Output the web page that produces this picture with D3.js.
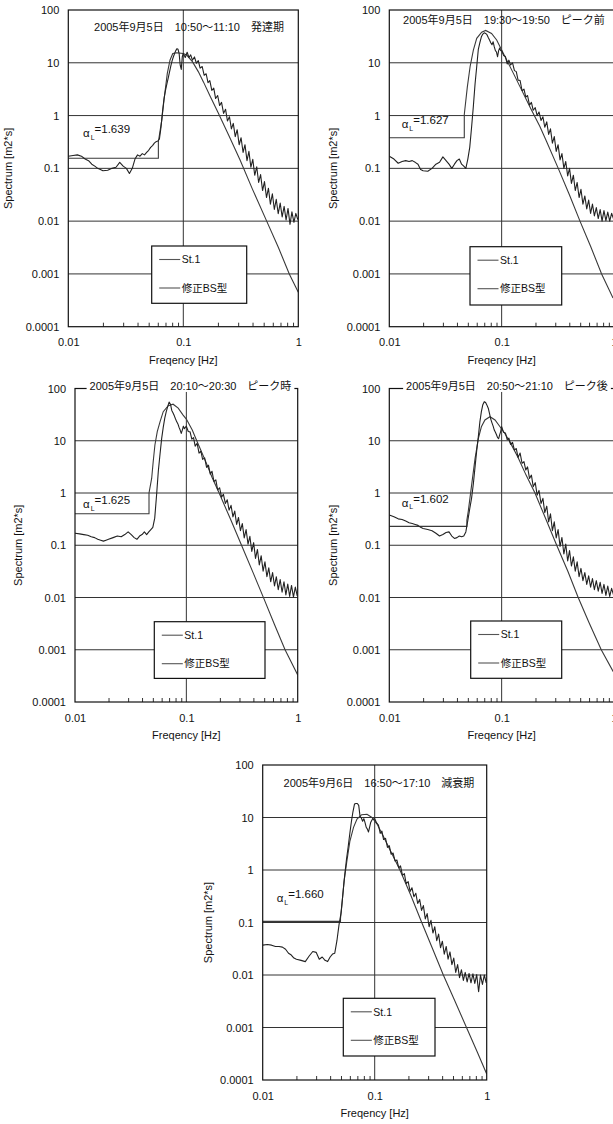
<!DOCTYPE html>
<html>
<head>
<meta charset="utf-8">
<script src="https://cdn.jsdelivr.net/npm/d3@7"></script>
<style>
    body { margin: 0; background: #fff; }
    svg { display: block; }
    text { font-family: "Liberation Sans", Arial, "Noto Sans CJK JP", sans-serif; fill: #111; }
</style>
</head>
<body>
<svg id="chart" width="613" height="1124"></svg>
<script>
// ---- data ----
const titles = [
    '2005年9月5日　10:50～11:10　発達期',
    '2005年9月5日　19:30～19:50　ピーク前',
    '2005年9月5日　20:10～20:30　ピーク時',
    '2005年9月5日　20:50～21:10　ピーク後',
    '2005年9月6日　16:50～17:10　減衰期'
];
const alphaL = ['1.639', '1.627', '1.625', '1.602', '1.660'];
const seriesNames = ['St.1', '修正BS型'];

const yTicks = [0.0001, 0.001, 0.01, 0.1, 1, 10, 100];
const yTickLabels = ['0.0001', '0.001', '0.01', '0.1', '1', '10', '100'];
const xTicks = [0.01, 0.1, 1];
const xTickLabels = ['0.01', '0.1', '1'];

// frequency grid of the measured spectra [Hz]
const freq = [
    0.010, 0.011, 0.012, 0.013, 0.014, 0.015, 0.016, 0.017, 0.018, 0.019, 0.020, 0.022, 0.024, 0.026, 0.028, 0.030, 0.032, 0.034, 0.036, 0.038, 0.040, 0.042, 0.044, 0.046, 0.048,
    0.050, 0.052, 0.054, 0.056, 0.058, 0.060, 0.062, 0.064, 0.066, 0.068, 0.070, 0.072, 0.074, 0.076, 0.078, 0.080, 0.082, 0.084, 0.086, 0.088, 0.090, 0.092, 0.094, 0.096, 0.098,
    0.100, 0.104, 0.108, 0.112, 0.116, 0.120, 0.125, 0.130, 0.135, 0.140, 0.146, 0.152, 0.158, 0.164, 0.170, 0.177, 0.184, 0.191, 0.199, 0.207,
    0.215, 0.224, 0.233, 0.242, 0.252, 0.262, 0.272, 0.283, 0.294, 0.306, 0.318, 0.331, 0.344, 0.358, 0.372, 0.387, 0.402, 0.418, 0.435, 0.452,
    0.470, 0.489, 0.508, 0.529, 0.550, 0.572, 0.595, 0.619, 0.643, 0.669, 0.696, 0.724, 0.753, 0.783, 0.814, 0.847, 0.880, 0.916, 0.952, 0.990
];

// St.1 measured spectra [m2*s]
const st1_a = [
    0.17, 0.175, 0.18, 0.17, 0.15, 0.14, 0.12, 0.11, 0.10, 0.095, 0.09, 0.092, 0.10, 0.105, 0.13, 0.11, 0.10, 0.08, 0.10, 0.15, 0.18, 0.17, 0.19, 0.18, 0.20,
    0.22, 0.25, 0.27, 0.30, 0.32, 0.33, 0.36, 0.6, 1.2, 2.1, 3.0, 4.0, 5.2, 6.8, 8.8, 11, 13, 15, 17, 18.5, 18, 15, 9, 7.5, 13,
    15, 12.6, 15.8, 12.6, 14.1, 11.2, 12.9, 9.8, 11, 7.9, 8.5, 5.8, 6.2, 4.2, 4.6, 3.0, 3.3, 2.1, 2.4, 1.55,
    1.78, 1.1, 1.32, 0.79, 0.95, 0.56, 0.71, 0.4, 0.54, 0.28, 0.38, 0.2, 0.28, 0.14, 0.21, 0.105, 0.148, 0.074, 0.107, 0.054,
    0.076, 0.038, 0.056, 0.028, 0.042, 0.021, 0.033, 0.0166, 0.026, 0.0138, 0.022, 0.012, 0.019, 0.0105, 0.0174, 0.0087, 0.015, 0.0095, 0.014, 0.0107
];
const st1_b = [
    0.17, 0.15, 0.125, 0.135, 0.14, 0.135, 0.14, 0.13, 0.12, 0.095, 0.09, 0.088, 0.10, 0.12, 0.13, 0.165, 0.14, 0.12, 0.10, 0.12, 0.14, 0.15, 0.12, 0.11, 0.10,
    0.15, 0.25, 0.6, 1.5, 4, 8.5, 18, 24, 31, 35, 37, 36, 34, 30, 27, 24, 22, 25, 20, 17, 16, 13, 17, 19, 17,
    17, 13.8, 13.2, 9.5, 11.2, 9.1, 10, 7.1, 6.8, 4.7, 4.6, 2.95, 3.16, 2.24, 2.4, 1.58, 1.78, 1.26, 1.41, 1.0,
    1.17, 0.81, 0.95, 0.6, 0.76, 0.44, 0.56, 0.3, 0.4, 0.21, 0.28, 0.145, 0.19, 0.1, 0.135, 0.072, 0.1, 0.052, 0.074, 0.038,
    0.054, 0.028, 0.04, 0.021, 0.03, 0.017, 0.025, 0.014, 0.021, 0.0126, 0.018, 0.0112, 0.0166, 0.01, 0.0158, 0.0102, 0.0148, 0.01, 0.0141, 0.011
];
const st1_c = [
    0.17, 0.165, 0.16, 0.155, 0.145, 0.14, 0.13, 0.125, 0.12, 0.125, 0.13, 0.14, 0.15, 0.145, 0.16, 0.18, 0.16, 0.14, 0.13, 0.15, 0.16, 0.18, 0.16, 0.18, 0.2,
    0.22, 0.33, 0.9, 2.6, 5.5, 11, 18, 27, 36, 45, 55, 50, 38, 34, 30, 26, 23, 21, 18, 16, 13.8, 16, 19, 17, 18,
    19, 15, 14.8, 10.7, 11.5, 7.9, 8.9, 5.8, 6.3, 4.4, 4.7, 3.1, 3.4, 2.3, 2.6, 1.66, 1.78, 1.15, 1.26, 0.83,
    0.95, 0.63, 0.74, 0.47, 0.58, 0.35, 0.45, 0.25, 0.34, 0.19, 0.26, 0.138, 0.2, 0.105, 0.148, 0.076, 0.112, 0.056, 0.083, 0.042,
    0.063, 0.032, 0.048, 0.025, 0.037, 0.02, 0.03, 0.0166, 0.025, 0.0141, 0.022, 0.0126, 0.02, 0.0112, 0.018, 0.0105, 0.017, 0.0102, 0.0158, 0.0107
];
const st1_d = [
    0.38, 0.35, 0.32, 0.31, 0.29, 0.27, 0.26, 0.25, 0.24, 0.22, 0.21, 0.20, 0.19, 0.17, 0.15, 0.16, 0.175, 0.18, 0.15, 0.135, 0.14, 0.15, 0.145, 0.15, 0.18,
    0.3, 0.5, 0.8, 1.5, 3.2, 6.5, 12, 23, 36, 49, 56, 54, 48, 42, 33, 26, 22, 19, 16, 14.5, 13, 11.5, 11, 13, 15,
    18.6, 14.5, 14.1, 10.5, 11.2, 8.5, 9.3, 6.6, 7.1, 4.8, 5.8, 3.7, 4.0, 2.75, 3.16, 1.9, 2.2, 1.32, 1.58, 0.91,
    1.12, 0.63, 0.79, 0.42, 0.56, 0.28, 0.4, 0.19, 0.28, 0.138, 0.2, 0.095, 0.141, 0.068, 0.105, 0.05, 0.079, 0.04, 0.06, 0.032,
    0.048, 0.025, 0.036, 0.021, 0.03, 0.0178, 0.026, 0.0158, 0.023, 0.0141, 0.021, 0.0132, 0.0195, 0.012, 0.0178, 0.011, 0.0166, 0.0105, 0.015, 0.0112
];
const st1_e = [
    0.037, 0.038, 0.037, 0.035, 0.035, 0.034, 0.031, 0.026, 0.024, 0.021, 0.02, 0.019, 0.018, 0.023, 0.028, 0.027, 0.02, 0.022, 0.019, 0.018, 0.022, 0.025, 0.026, 0.045, 0.09,
    0.15, 0.35, 0.8, 1.6, 2.8, 5, 8.5, 13, 18, 18.5, 18.5, 17, 10.5, 9.8, 8.5, 9.5, 8, 6.5, 6, 5.3, 6.5, 8, 8.8, 9.5, 9.2,
    9.5, 7.9, 7.2, 5.0, 5.5, 3.8, 4.0, 2.7, 2.9, 2.0, 2.1, 1.48, 1.55, 1.1, 1.2, 0.79, 0.85, 0.55, 0.6, 0.39,
    0.46, 0.31, 0.36, 0.23, 0.275, 0.17, 0.21, 0.117, 0.148, 0.083, 0.11, 0.063, 0.083, 0.045, 0.06, 0.033, 0.044, 0.025, 0.035, 0.02,
    0.0275, 0.0158, 0.021, 0.0112, 0.0158, 0.0089, 0.0126, 0.0079, 0.0112, 0.0074, 0.0107, 0.0071, 0.0105, 0.0069, 0.0102, 0.0048, 0.01, 0.0066, 0.01, 0.0071
];

// modified Bretschneider-Mitsuyasu spectra (step at low frequency)
const bsFreq_a = [0.01, 0.0607, 0.0607, 0.065, 0.0685, 0.0726, 0.0767, 0.081, 0.0875, 0.1, 0.107, 0.12, 0.135, 0.15, 0.17, 0.2, 0.25, 0.311, 0.4, 0.531, 0.67, 0.835, 1.0];
const bs_a     = [0.155, 0.155, 0.32, 0.83, 2.3, 6.3, 11.3, 15, 15.5, 15, 14, 10.5, 6.8, 4.3, 2.4, 1.15, 0.41, 0.145, 0.04, 0.01, 0.0032, 0.001, 0.00045];
const bsFreq_b = [0.01, 0.0465, 0.0465, 0.0495, 0.0524, 0.056, 0.06, 0.0664, 0.072, 0.0813, 0.0903, 0.1, 0.125, 0.15, 0.18, 0.219, 0.25, 0.319, 0.4, 0.498, 0.62, 0.776, 0.98];
const bs_b     = [0.38, 0.38, 1.05, 3.5, 8.5, 17.4, 29, 38, 41, 36, 27, 17.4, 6.8, 3.1, 1.4, 0.62, 0.33, 0.1, 0.032, 0.01, 0.0033, 0.001, 0.00035];
const bsFreq_c = [0.01, 0.0462, 0.0462, 0.0488, 0.0504, 0.0522, 0.0548, 0.058, 0.062, 0.0688, 0.076, 0.0845, 0.0935, 0.1, 0.113, 0.124, 0.15, 0.17, 0.197, 0.25, 0.313, 0.4, 0.497, 0.62, 0.77, 1.0];
const bs_c     = [0.4, 0.4, 1.0, 1.9, 4, 8.3, 15, 23, 36, 47, 50, 42, 31, 26, 16, 10, 3.9, 2.0, 1.0, 0.31, 0.1, 0.029, 0.0095, 0.003, 0.001, 0.00033];
const bsFreq_d = [0.01, 0.049, 0.049, 0.0504, 0.054, 0.058, 0.062, 0.066, 0.071, 0.0787, 0.0873, 0.0967, 0.1068, 0.12, 0.14, 0.165, 0.198, 0.25, 0.309, 0.39, 0.48, 0.6, 0.77, 0.985];
const bs_d     = [0.23, 0.23, 0.3, 0.44, 1.4, 4.6, 11, 18.5, 25, 28.8, 25, 18.5, 13.8, 9, 4.8, 2.2, 1.0, 0.3, 0.1, 0.031, 0.01, 0.0033, 0.001, 0.00038];
const bsFreq_e = [0.01, 0.0495, 0.0495, 0.0508, 0.0532, 0.0565, 0.06, 0.0647, 0.0695, 0.0765, 0.0854, 0.0945, 0.105, 0.12, 0.14, 0.168, 0.21, 0.263, 0.33, 0.41, 0.52, 0.66, 0.82, 1.0];
const bs_e     = [0.105, 0.105, 0.12, 0.2, 0.6, 1.5, 3.5, 6.5, 9.3, 11.3, 11.5, 10, 7.5, 4.3, 2.2, 1.0, 0.33, 0.1, 0.031, 0.01, 0.0032, 0.001, 0.00035, 0.00013];

const measured = [st1_a, st1_b, st1_c, st1_d, st1_e];
const bsFreqs = [bsFreq_a, bsFreq_b, bsFreq_c, bsFreq_d, bsFreq_e];
const bsValues = [bs_a, bs_b, bs_c, bs_d, bs_e];

// ---- layout of the five panels (pixels) ----
const layout = [
    {x0: 68.3, x1: 298.3, y0: 10, y1: 326.7, title: [189, 27], alpha: [83, 133], legend: [151.7, 246, 95, 57.3], ylab: 60, cut: false},
    {x0: 389.3, x1: 614, y0: 10, y1: 326.7, title: [504, 20], alpha: [401.7, 124], legend: [470, 246.7, 91.7, 58.3], ylab: 56, cut: false},
    {x0: 75, x1: 297.7, y0: 388.5, y1: 702, title: [190.5, 386], alpha: [83, 504], legend: [154.3, 621.7, 110.7, 56.7], ylab: 57, cut: true},
    {x0: 389.3, x1: 614, y0: 388.5, y1: 702, title: [507, 386], alpha: [401.7, 502.7], legend: [470.7, 621, 91, 57.3], ylab: 56, cut: true},
    {x0: 262.7, x1: 486.7, y0: 765, y1: 1080, title: [379, 783], alpha: [276.7, 898], legend: [343.3, 998.3, 91.7, 57.7], ylab: 55, cut: false}
];

const svg = d3.select('#chart');
const lineColor = '#222';
const minorTicks = [0.02, 0.03, 0.04, 0.05, 0.06, 0.07, 0.08, 0.09, 0.2, 0.3, 0.4, 0.5, 0.6, 0.7, 0.8, 0.9];

function drawPanel(i) {
    const L = layout[i];
    const x = d3.scaleLog().domain([0.01, 1]).range([L.x0, L.x1]);
    const y = d3.scaleLog().domain([0.0001, 100]).range([L.y1, L.y0]);
    const g = svg.append('g');

    const clipId = 'clip' + i;
    svg.append('clipPath').attr('id', clipId)
        .append('rect')
        .attr('x', L.x0).attr('y', L.y0)
        .attr('width', L.x1 - L.x0).attr('height', L.y1 - L.y0);

    // grid: horizontal at every decade, vertical at 0.1 only
    g.selectAll('line.hgrid')
        .data(yTicks.slice(1, -1))
        .enter().append('line')
        .attr('x1', L.x0).attr('x2', L.x1)
        .attr('y1', d => y(d)).attr('y2', d => y(d))
        .attr('stroke', '#333').attr('stroke-width', 1);
    g.append('line')
        .attr('x1', x(0.1)).attr('x2', x(0.1))
        .attr('y1', L.y0).attr('y2', L.y1)
        .attr('stroke', '#333').attr('stroke-width', 1);

    // minor ticks pointing up from the bottom axis
    const minorAxis = g.append('g')
        .attr('transform', 'translate(0,' + L.y1 + ')')
        .call(d3.axisBottom(x).tickValues(minorTicks).tickSize(-4).tickFormat(''));
    minorAxis.select('.domain').remove();
    minorAxis.selectAll('line').attr('stroke', '#333');

    // curves
    const line = d3.line().x(d => x(d[0])).y(d => y(d[1]));
    const curves = g.append('g').attr('clip-path', 'url(#' + clipId + ')');
    const bsPts = bsFreqs[i].map((f, k) => [f, bsValues[i][k]]);
    curves.append('path')
        .attr('d', line(bsPts))
        .attr('fill', 'none').attr('stroke', '#3a3a3a').attr('stroke-width', 1.1);
    const stPts = freq.map((f, k) => [f, measured[i][k]]);
    curves.append('path')
        .attr('d', line(stPts))
        .attr('fill', 'none').attr('stroke', lineColor).attr('stroke-width', 1.1)
        .attr('stroke-linejoin', 'round');

    // frame
    g.append('rect')
        .attr('x', L.x0).attr('y', L.y0)
        .attr('width', L.x1 - L.x0).attr('height', L.y1 - L.y0)
        .attr('fill', 'none').attr('stroke', '#111').attr('stroke-width', 1.2);

    // tick labels
    const yAxis = g.append('g')
        .attr('transform', 'translate(' + L.x0 + ',0)')
        .call(d3.axisLeft(y).tickValues(yTicks).tickSize(0).tickPadding(9)
            .tickFormat((d, k) => yTickLabels[k]));
    yAxis.select('.domain').remove();
    yAxis.selectAll('text').attr('font-size', 11).style('font-family', null);

    const xAxis = g.append('g')
        .attr('transform', 'translate(0,' + L.y1 + ')')
        .call(d3.axisBottom(x).tickValues(xTicks).tickSize(0).tickPadding(12)
            .tickFormat((d, k) => xTickLabels[k]));
    xAxis.select('.domain').remove();
    xAxis.selectAll('text').attr('font-size', 11).style('font-family', null);

    // axis titles
    g.append('text')
        .attr('x', (L.x0 + L.x1) / 2).attr('y', L.y1 + 37)
        .attr('text-anchor', 'middle').attr('font-size', 11)
        .text('Freqency [Hz]');
    g.append('text')
        .attr('transform', 'translate(' + (L.x0 - L.ylab + 4) + ',' + ((L.y0 + L.y1) / 2) + ') rotate(-90)')
        .attr('text-anchor', 'middle').attr('font-size', 11)
        .text('Spectrum [m2*s]');

    // panel title (sits on the top border for the middle row)
    const title = g.append('text')
        .attr('x', L.title[0]).attr('y', L.title[1])
        .attr('dy', '0.36em')
        .attr('text-anchor', 'middle').attr('font-size', 11)
        .text(titles[i]);
    if (L.cut) {
        const bb = title.node().getBBox();
        g.insert('rect', function () { return title.node(); })
            .attr('x', bb.x - 3).attr('y', bb.y)
            .attr('width', bb.width + 6).attr('height', bb.height)
            .attr('fill', '#fff');
    }

    // alpha_L label
    const a = g.append('text')
        .attr('x', L.alpha[0]).attr('y', L.alpha[1])
        .attr('dy', '0.36em').attr('font-size', 11.5);
    a.append('tspan').text('α');
    a.append('tspan').attr('font-size', 7).attr('dy', '0.35em').attr('dx', 1).text('L');
    a.append('tspan').attr('dy', '-0.55em').text('=' + alphaL[i]);

    // legend
    const lg = L.legend;
    const leg = g.append('g').attr('transform', 'translate(' + lg[0] + ',' + lg[1] + ')');
    leg.append('rect')
        .attr('width', lg[2]).attr('height', lg[3])
        .attr('fill', '#fff').attr('stroke', '#111').attr('stroke-width', 1.2);
    leg.selectAll('g.item')
        .data(seriesNames)
        .enter().append('g')
        .attr('transform', (d, k) => 'translate(0,' + (13.5 + k * 28.5) + ')')
        .each(function (d) {
            const item = d3.select(this);
            item.append('line')
                .attr('x1', 7.5).attr('x2', 28.5)
                .attr('stroke', '#555').attr('stroke-width', 1.1);
            item.append('text')
                .attr('x', 30).attr('dy', '0.36em')
                .attr('font-size', 10.5)
                .text(d);
        });
}

for (let i = 0; i < layout.length; i++) {
    drawPanel(i);
}
</script>
</body>
</html>
